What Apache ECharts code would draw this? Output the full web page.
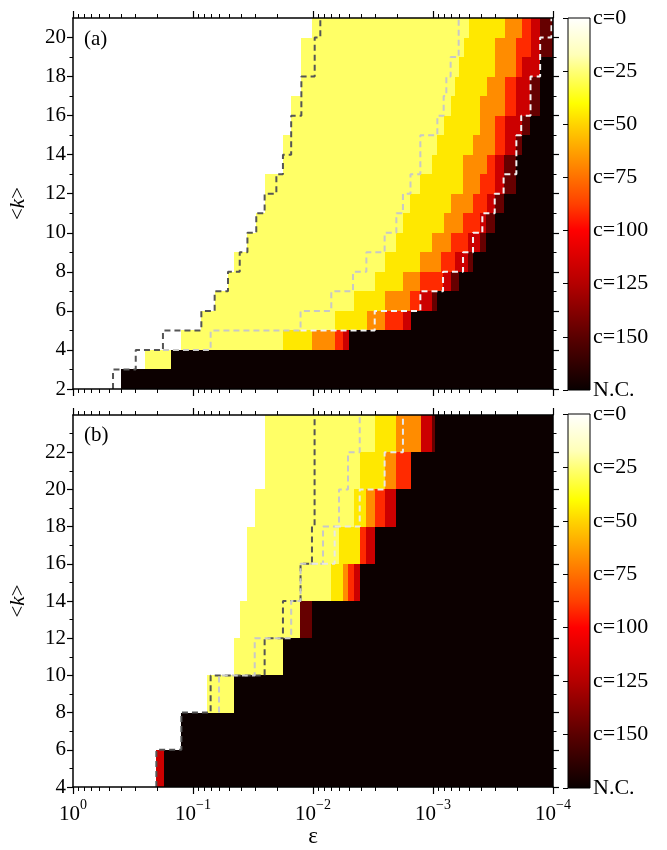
<!DOCTYPE html>
<html><head><meta charset="utf-8">
<script src="https://cdn.jsdelivr.net/npm/echarts@6/dist/echarts.min.js"></script>
<style>html,body{margin:0;padding:0;background:#fff}#c{width:667px;height:850px}</style>
</head><body><div id="c"></div>
<script>
const F = '"Liberation Serif", "Times New Roman", serif';
const NC = 175;                      // "N.C." (not converged) level
const EPS_MIN = 1e-4, EPS_MAX = 1;
const levelColors = {25:'#ffff66', 50:'#ffe800', 75:'#ff8c00', 100:'#ff2a00', 125:'#cc0000', 150:'#660000', 175:'#0c0000'};

// ---- panel (a): row edges in <k>, and for each row the epsilon where each colour band starts (then its c level)
const kEdgesA = [2,3,4,5,6,7,8,9,10,11,12,13,14,15,16,17,18,19,20,21];
const rowsA = [
  [0.40,175],
  [0.253,25, 0.152,175],
  [0.127,25, 0.0178,50, 0.0101,75, 0.0066,100, 0.00562,125, 0.00504,175],
  [0.0852,25, 0.0066,50, 0.00352,75, 0.00253,100, 0.00178,125, 0.00152,175],
  [0.066,25, 0.00458,50, 0.00253,75, 0.00154,100, 0.001275,125, 0.001013,150, 0.00092,175],
  [0.0511,25, 0.00306,50, 0.00178,75, 0.001275,100, 0.000825,125, 0.000713,150, 0.000611,175],
  [0.0455,25, 0.00253,50, 0.001275,75, 0.000863,100, 0.00066,125, 0.000511,150, 0.000464,175],
  [0.0352,25, 0.00202,50, 0.001013,75, 0.000713,100, 0.000511,125, 0.000408,150, 0.000359,175],
  [0.030,25, 0.00178,50, 0.000815,75, 0.000562,100, 0.000408,125, 0.000359,150, 0.000306,175],
  [0.0253,25, 0.00154,50, 0.000713,75, 0.000464,100, 0.000355,125, 0.000306,150, 0.000258,175],
  [0.0253,25, 0.001275,50, 0.000562,75, 0.000408,100, 0.000306,125, 0.000258,150, 0.000202,175],
  [0.0178,25, 0.001013,50, 0.000562,75, 0.000355,100, 0.000306,125, 0.000258,150, 0.000202,175],
  [0.0178,25, 0.00092,50, 0.000464,75, 0.000306,100, 0.000253,125, 0.000202,150, 0.00018,175],
  [0.0152,25, 0.000815,50, 0.000408,75, 0.000306,100, 0.000253,125, 0.00018,150, 0.000154,175],
  [0.0152,25, 0.000713,50, 0.000408,75, 0.000253,100, 0.000202,125, 0.000154,150, 0.000128,175],
  [0.0127,25, 0.00066,50, 0.000355,75, 0.000253,100, 0.000202,125, 0.000154,150, 0.000128,175],
  [0.0127,25, 0.000611,50, 0.000306,75, 0.000202,100, 0.00018,125, 0.000128,175],
  [0.0127,25, 0.000555,50, 0.000306,75, 0.000202,100, 0.000152,125, 0.000128,150],
  [0.0101,25, 0.000504,50, 0.000253,75, 0.00018,100, 0.000152,125, 0.000128,150]
];
// dashed staircase contours: [epsilon, k from, k to] vertical steps
const darkA = [[0.464,2,3],[0.30,3,4],[0.178,4,5],[0.0852,5,6],[0.066,6,7],[0.0511,7,8],[0.0408,8,9],[0.0352,9,10],[0.0297,10,11],[0.0253,11,12],[0.0202,12,13],[0.0178,13,14],[0.0152,14,16],[0.0125,16,18],[0.00968,18,20],[0.00869,20,21]];
const lightA = [[0.178,4,4],[0.0713,4,5],[0.0127,5,6],[0.00704,6,7],[0.00464,7,8],[0.00359,8,9],[0.00253,9,10],[0.00202,10,11],[0.00178,11,12],[0.00154,12,13],[0.001275,13,15],[0.00092,15,16],[0.000815,16,17],[0.000774,17,18],[0.000713,18,19],[0.000611,19,21]];
const whiteA = [[0.0127,5,5],[0.00306,5,6],[0.001275,6,7],[0.000825,7,8],[0.000562,8,9],[0.000464,9,10],[0.000388,10,11],[0.000306,11,12],[0.000258,12,13],[0.000202,13,15],[0.000184,15,16],[0.000154,16,18],[0.000128,18,20],[0.000103,20,21]];

// ---- panel (b)
const kEdgesB = [4,6,8,10,12,14,16,18,20,22,24];
const rowsB = [
  [0.202,125, 0.175,175],
  [0.125,175],
  [0.076,25, 0.0455,175],
  [0.0455,25, 0.0178,175],
  [0.0408,25, 0.01275,150, 0.0102,175],
  [0.0352,25, 0.00713,50, 0.00562,75, 0.00511,100, 0.00458,125, 0.00408,175],
  [0.0352,25, 0.00607,50, 0.00408,100, 0.00359,125, 0.00306,175],
  [0.0306,25, 0.00458,50, 0.00359,75, 0.00306,100, 0.00253,125, 0.00202,175],
  [0.0253,25, 0.00408,50, 0.00253,75, 0.00202,100, 0.00152,175],
  [0.0253,25, 0.00306,50, 0.00202,75, 0.00127,125, 0.00101,150, 0.00097,175]
];
const darkB = [[0.202,4,6],[0.125,6,8],[0.0713,8,10],[0.0253,10,12],[0.0178,12,14],[0.0127,14,16],[0.0102,16,18],[0.0097,18,24]];
const lightB = [[0.0607,8,10],[0.0306,10,12],[0.0152,12,14],[0.0127,14,16],[0.00825,16,18],[0.00607,18,20],[0.00511,20,22],[0.00408,22,24]];
const whiteB = [[0.0102,16,16],[0.0066,16,18],[0.00408,18,20],[0.00253,20,22],[0.00178,22,24]];

// ---- ticks / labels
const xMajor = [1, 0.1, 0.01, 0.001, 0.0001];
const xMinor = [];
[1, 0.1, 0.01, 0.001].forEach(d => { for (let m = 2; m <= 9; m++) xMinor.push(+(m * d / 10).toPrecision(3)); });
const yMajorA = [2,4,6,8,10,12,14,16,18,20], yMinorA = [3,5,7,9,11,13,15,17,19];
const yMajorB = [4,6,8,10,12,14,16,18,20,22], yMinorB = [5,7,9,11,13,15,17,19,21,23];
const cbLevels = [0,25,50,75,100,125,150,175];
const cbStops = [[0,'#ffffff'],[0.1,'#ffffb8'],[0.143,'#ffff78'],[0.23,'#ffff00'],[0.286,'#ffd400'],[0.36,'#ffa000'],[0.43,'#ff7000'],[0.5,'#ff4000'],[0.571,'#ff0000'],[0.714,'#b40000'],[0.857,'#5a0000'],[1,'#080000']];

function buildCells(kEdges, rows) {
  const out = [];
  rows.forEach((r, i) => {
    for (let j = 0; j < r.length; j += 2) {
      const right = j + 2 < r.length ? r[j + 2] : EPS_MIN;
      out.push([r[j], right, kEdges[i], kEdges[i + 1], r[j + 1]]);
    }
  });
  return out;
}
function buildSteps(steps) {
  const pts = [];
  steps.forEach(s => { pts.push([s[0], s[1]]); pts.push([s[0], s[2]]); });
  return pts;
}

const BL = {color:'#000', width:1.5};
function xAxes(g, showLab) {
  const base = {gridIndex:g, type:'log', logBase:10, min:EPS_MIN, max:EPS_MAX, inverse:true, z:10,
    splitLine:{show:false}, minorTick:{show:false}, minorSplitLine:{show:false}};
  const lab = {show:showLab, customValues:xMajor, margin:11, hideOverlap:false,
    formatter: v => { const e = Math.round(Math.log10(v)); return '{b|10}{s|' + (e < 0 ? '\u2212' + (-e) : e) + '}'; },
    rich:{b:{fontFamily:F, fontSize:21, color:'#000', lineHeight:27, verticalAlign:'bottom'},
          s:{fontFamily:F, fontSize:14, color:'#000', lineHeight:13, verticalAlign:'top'}}};
  return [
    Object.assign({}, base, {position:'bottom', axisLine:{show:true, onZero:false, lineStyle:BL},
      axisTick:{show:true, length:7, customValues:xMajor, lineStyle:{color:'#000', width:1.2}}, axisLabel:lab,
      name: showLab ? '\u03b5' : '', nameLocation:'middle', nameGap:37,
      nameTextStyle:{fontFamily:F, fontSize:23, color:'#000'}}),
    Object.assign({}, base, {position:'bottom', axisLine:{show:false, onZero:false},
      axisTick:{show:true, length:4, customValues:xMinor, lineStyle:{color:'#000', width:1}}, axisLabel:{show:false}}),
    Object.assign({}, base, {position:'top', axisLine:{show:true, onZero:false, lineStyle:BL},
      axisTick:{show:true, length:7, customValues:xMajor, lineStyle:{color:'#000', width:1.2}}, axisLabel:{show:false}}),
    Object.assign({}, base, {position:'top', axisLine:{show:false, onZero:false},
      axisTick:{show:true, length:4, customValues:xMinor, lineStyle:{color:'#000', width:1}}, axisLabel:{show:false}})
  ];
}
function yAxes(g, mn, mx, majors, minors) {
  const base = {gridIndex:g, type:'value', min:mn, max:mx, z:10, splitLine:{show:false}};
  return [
    Object.assign({}, base, {position:'left', axisLine:{show:true, onZero:false, lineStyle:BL},
      axisTick:{show:true, length:6, customValues:majors, lineStyle:{color:'#000', width:1.2}},
      axisLabel:{customValues:majors, margin:7, fontFamily:F, fontSize:21, color:'#000'},
      name:'<{i|k}>', nameLocation:'middle', nameGap:44, nameRotate:90,
      nameTextStyle:{fontFamily:F, fontSize:21, color:'#000', rich:{i:{fontFamily:F, fontSize:21, fontStyle:'italic', color:'#000'}}}}),
    Object.assign({}, base, {position:'left', axisLine:{show:false, onZero:false},
      axisTick:{show:true, length:3.5, customValues:minors, lineStyle:{color:'#000', width:1}}, axisLabel:{show:false}}),
    Object.assign({}, base, {position:'right', axisLine:{show:true, onZero:false, lineStyle:BL},
      axisTick:{show:true, length:6, customValues:majors, lineStyle:{color:'#000', width:1.2}}, axisLabel:{show:false}}),
    Object.assign({}, base, {position:'right', axisLine:{show:false, onZero:false},
      axisTick:{show:true, length:3.5, customValues:minors, lineStyle:{color:'#000', width:1}}, axisLabel:{show:false}})
  ];
}
function cellSeries(data, xi, yi) {
  return {type:'custom', xAxisIndex:xi, yAxisIndex:yi, data:data, clip:true, z:2, silent:true,
    encode:{x:[0,1], y:[2,3]},
    renderItem:(params, api) => {
      const a = api.coord([api.value(0), api.value(2)]);
      const b = api.coord([api.value(1), api.value(3)]);
      const x0 = Math.round(Math.min(a[0], b[0])), x1 = Math.round(Math.max(a[0], b[0]));
      const y0 = Math.round(Math.min(a[1], b[1])), y1 = Math.round(Math.max(a[1], b[1]));
      return {type:'rect', shape:{x:x0, y:y0, width:x1 - x0, height:y1 - y0},
        style:{fill:levelColors[api.value(4)], stroke:null}};
    }};
}
function lineSeries(pts, color, xi, yi) {
  return {type:'line', xAxisIndex:xi, yAxisIndex:yi, data:pts, symbol:'none', z:5, silent:true, clip:true,
    lineStyle:{color:color, width:2, type:[6,4]}};
}
function cbSeries(i) {
  return {type:'custom', xAxisIndex:i, yAxisIndex:i, data:[[0, 1, 0, NC]], z:2, silent:true,
    encode:{x:[0,1], y:[2,3]},
    renderItem:(params, api) => {
      const a = api.coord([api.value(0), api.value(2)]);
      const b = api.coord([api.value(1), api.value(3)]);
      return {type:'rect', shape:{x:Math.min(a[0], b[0]), y:Math.min(a[1], b[1]), width:Math.abs(b[0] - a[0]), height:Math.abs(b[1] - a[1])},
        style:{fill:{type:'linear', x:0, y:0, x2:0, y2:1, colorStops:cbStops.map(s => ({offset:s[0], color:s[1]}))}, stroke:'#000', lineWidth:1}};
    }};
}
function cbX(g) { return {gridIndex:g, type:'value', min:0, max:1, show:false}; }
function cbY(g) {
  return {gridIndex:g, type:'value', min:0, max:NC, inverse:true, position:'right', z:10,
    axisLine:{show:false}, splitLine:{show:false},
    axisTick:{show:true, inside:true, length:5, customValues:cbLevels, lineStyle:{color:'#000', width:1}},
    axisLabel:{customValues:cbLevels, margin:3, fontFamily:F, fontSize:22, color:'#000',
      formatter: v => v === NC ? 'N.C.' : 'c=' + v}};
}

const chart = echarts.init(document.getElementById('c'), null, {renderer:'canvas'});
chart.setOption({
  animation:false,
  backgroundColor:'#fff',
  grid:[
    {left:73, top:18, width:480, height:371},
    {left:73, top:415, width:480, height:372},
    {left:568, top:18, width:22, height:372},
    {left:568, top:414, width:22, height:374}
  ],
  xAxis:[].concat(xAxes(0, false), xAxes(1, true), [cbX(2), cbX(3)]),
  yAxis:[].concat(yAxes(0, 2, 21, yMajorA, yMinorA), yAxes(1, 4, 24, yMajorB, yMinorB), [cbY(2), cbY(3)]),
  graphic:[
    {type:'text', left:84, top:29, z:20, style:{text:'(a)', font:'21px ' + F, fill:'#000'}},
    {type:'text', left:84, top:425, z:20, style:{text:'(b)', font:'21px ' + F, fill:'#000'}}
  ],
  series:[
    cellSeries(buildCells(kEdgesA, rowsA), 0, 0),
    lineSeries(buildSteps(darkA), '#555555', 0, 0),
    lineSeries(buildSteps(lightA), '#c8c8c8', 0, 0),
    lineSeries(buildSteps(whiteA), '#f2f2f2', 0, 0),
    cellSeries(buildCells(kEdgesB, rowsB), 4, 4),
    lineSeries(buildSteps(darkB), '#555555', 4, 4),
    lineSeries(buildSteps(lightB), '#c8c8c8', 4, 4),
    lineSeries(buildSteps(whiteB), '#e8e8e8', 4, 4),
    cbSeries(8),
    cbSeries(9)
  ]
});
</script></body></html>
